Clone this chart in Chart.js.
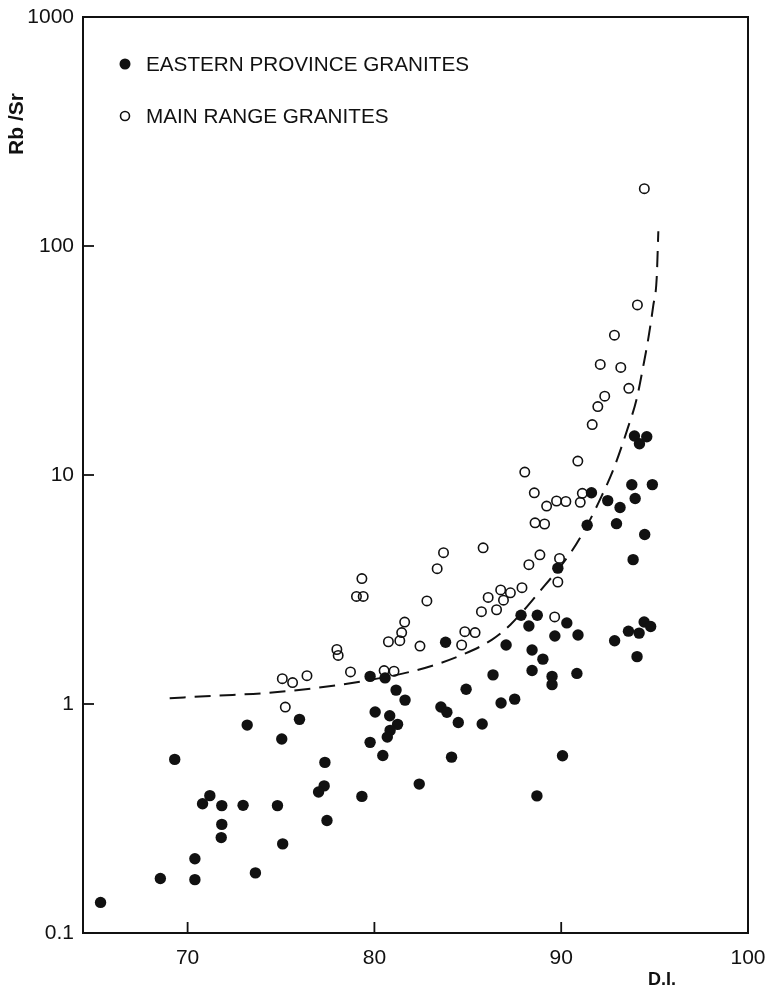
<!DOCTYPE html>
<html>
<head>
<meta charset="utf-8">
<script src="https://cdn.jsdelivr.net/npm/chart.js@4.4.1/dist/chart.umd.min.js"></script>
<style>
html,body{margin:0;padding:0;background:#fff;}
#wrap{width:767px;height:990px;position:relative;}
</style>
</head>
<body>
<div id="wrap"><canvas id="c" width="767" height="990"></canvas></div>
<script>
// ---- data ----
const xTickValues = [70, 80, 90, 100];
const yTickValues = [0.1, 1, 10, 100, 1000];
const yTickLabels = ["0.1", "1", "10", "100", "1000"];

const easternDI = [65.34,68.54,70.39,70.39,73.63,69.31,70.80,71.19,71.83,71.83,71.80,72.97,73.19,74.81,75.04,75.09,75.99,77.35,77.31,77.01,77.46,79.33,79.77,80.04,79.77,80.45,80.57,81.16,81.64,80.82,81.24,80.84,80.69,82.40,83.81,83.56,83.88,84.49,85.77,84.91,86.35,84.13,90.07,88.70,87.51,86.78,89.51,93.92,94.58,94.19,93.78,94.88,93.96,91.62,92.49,93.15,92.96,91.39,94.47,93.85,89.82,87.85,88.72,88.27,90.30,89.66,90.90,87.05,88.44,89.02,88.44,89.51,90.84,92.86,93.60,94.17,94.44,94.79,94.06];
const easternRbSr = [0.136,0.173,0.171,0.211,0.183,0.573,0.367,0.398,0.360,0.298,0.261,0.361,0.809,0.360,0.703,0.245,0.857,0.556,0.439,0.413,0.310,0.395,1.32,0.923,0.680,0.596,1.30,1.15,1.04,0.889,0.815,0.767,0.717,0.447,1.86,0.97,0.92,0.83,0.818,1.16,1.34,0.586,0.594,0.397,1.05,1.01,1.215,14.8,14.7,13.7,9.06,9.08,7.89,8.36,7.73,7.21,6.13,6.03,5.50,4.27,3.92,2.44,2.44,2.19,2.26,1.98,2.00,1.81,1.72,1.57,1.40,1.32,1.36,1.89,2.08,2.04,2.28,2.18,1.61];

const mainDI = [75.07,75.62,76.39,75.23,77.99,78.06,78.72,80.52,81.05,80.75,81.36,81.46,81.62,82.44,79.33,79.04,79.40,82.81,83.36,83.70,84.67,84.84,85.39,85.82,85.73,86.09,87.90,87.28,86.76,86.91,86.54,89.65,89.82,89.91,88.86,88.27,88.60,89.11,88.05,88.56,89.22,89.75,90.25,91.02,91.13,90.89,91.66,91.96,92.33,93.62,92.09,93.19,92.85,94.08,94.45];
const mainRbSr = [1.29,1.24,1.33,0.97,1.73,1.63,1.38,1.40,1.39,1.87,1.89,2.05,2.28,1.79,3.53,2.95,2.95,2.82,3.90,4.58,1.81,2.07,2.05,4.81,2.53,2.92,3.22,3.06,3.15,2.84,2.58,2.40,3.41,4.32,4.48,4.06,6.18,6.11,10.3,8.36,7.32,7.70,7.66,7.60,8.32,11.5,16.6,19.9,22.1,23.9,30.4,29.5,40.8,55.3,178];

const curveDI = [69.04,71.53,74.20,76.87,79.36,81.50,83.10,84.70,86.30,87.28,88.79,90.57,91.46,92.17,92.80,93.55,94.04,94.40,94.66,94.93,95.11,95.20];
const curveRbSr = [1.06,1.087,1.117,1.175,1.257,1.357,1.47,1.64,1.91,2.22,3.06,4.66,6.19,8.11,10.6,15.9,21.5,30.1,39.3,55.0,71.9,116];

const seriesNames = ["EASTERN PROVINCE GRANITES", "MAIN RANGE GRANITES"];
const xTitle = "D.I.";
const yTitle = "Rb /Sr";

// ---- build ----
const zip = (xs, ys) => xs.map((x, i) => ({x: x, y: ys[i]}));
const FONT = "'Liberation Sans', Arial, Helvetica, sans-serif";
const INK = "#111";

const decor = {
  id: 'decor',
  afterDraw(chart) {
    const ctx = chart.ctx;
    const a = chart.chartArea;
    const xs = chart.scales.x, ys = chart.scales.y;
    ctx.save();
    ctx.strokeStyle = INK;
    ctx.lineWidth = 2;
    ctx.strokeRect(a.left, a.top, a.right - a.left, a.bottom - a.top);
    // inward ticks
    ctx.lineWidth = 1.8;
    xTickValues.forEach(v => {
      const px = xs.getPixelForValue(v);
      ctx.beginPath(); ctx.moveTo(px, a.bottom); ctx.lineTo(px, a.bottom - 11); ctx.stroke();
    });
    yTickValues.forEach(v => {
      const py = ys.getPixelForValue(v);
      ctx.beginPath(); ctx.moveTo(a.left, py); ctx.lineTo(a.left + 11, py); ctx.stroke();
    });
    // axis titles
    ctx.fillStyle = INK;
    ctx.font = "bold 21px " + FONT;
    ctx.textAlign = 'center';
    ctx.textBaseline = 'middle';
    ctx.save();
    ctx.translate(17, 124);
    ctx.rotate(-Math.PI / 2);
    ctx.fillText(yTitle, 0, 0);
    ctx.restore();
    ctx.font = "bold 18px " + FONT;
    ctx.fillText(xTitle, 662, 980);
    // legend
    ctx.textAlign = 'left';
    ctx.textBaseline = 'alphabetic';
    ctx.font = "20.7px " + FONT;
    ctx.beginPath(); ctx.arc(125, 64, 5.5, 0, Math.PI * 2); ctx.fill();
    ctx.fillText(seriesNames[0], 146, 71);
    ctx.lineWidth = 1.6;
    ctx.beginPath(); ctx.arc(125, 116, 4.5, 0, Math.PI * 2); ctx.stroke();
    ctx.fillText(seriesNames[1], 146, 123);
    ctx.restore();
  }
};

new Chart(document.getElementById('c'), {
  type: 'scatter',
  data: {
    datasets: [
      {
        label: 'curve', type: 'line', data: zip(curveDI, curveRbSr),
        borderColor: INK, borderWidth: 2, borderDash: [16, 9], pointRadius: 0,
        tension: 0.4, cubicInterpolationMode: 'monotone', fill: false, order: 3
      },
      {
        label: seriesNames[0], data: zip(easternDI, easternRbSr),
        backgroundColor: INK, borderColor: INK, borderWidth: 0, pointRadius: 5.7, order: 1
      },
      {
        label: seriesNames[1], data: zip(mainDI, mainRbSr),
        backgroundColor: 'rgba(255,255,255,0)', borderColor: INK, borderWidth: 1.6, pointRadius: 4.7, order: 2
      }
    ]
  },
  options: {
    responsive: false,
    animation: false,
    events: [],
    layout: { padding: { left: 0, right: 19, top: 17, bottom: 0 } },
    plugins: { legend: { display: false }, tooltip: { enabled: false }, title: { display: false } },
    scales: {
      x: {
        type: 'linear', min: 64.4, max: 100,
        grid: { display: false, drawTicks: false },
        border: { display: false },
        ticks: { font: { family: FONT, size: 21 }, color: INK, padding: 13, maxRotation: 0,
                 callback: v => String(v) },
        afterBuildTicks: s => { s.ticks = xTickValues.map(v => ({ value: v })); },
        afterFit: s => { s.height = 57; s.paddingLeft = 0; s.paddingRight = 0; }
      },
      y: {
        type: 'logarithmic', min: 0.1, max: 1000,
        grid: { display: false, drawTicks: false },
        border: { display: false },
        ticks: { font: { family: FONT, size: 21 }, color: INK, padding: 9,
                 callback: (v) => { const i = yTickValues.indexOf(v); return i >= 0 ? yTickLabels[i] : ''; } },
        afterBuildTicks: s => { s.ticks = yTickValues.map(v => ({ value: v })); },
        afterFit: s => { s.width = 83; s.paddingTop = 0; s.paddingBottom = 0; }
      }
    }
  },
  plugins: [decor]
});
</script>
</body>
</html>
